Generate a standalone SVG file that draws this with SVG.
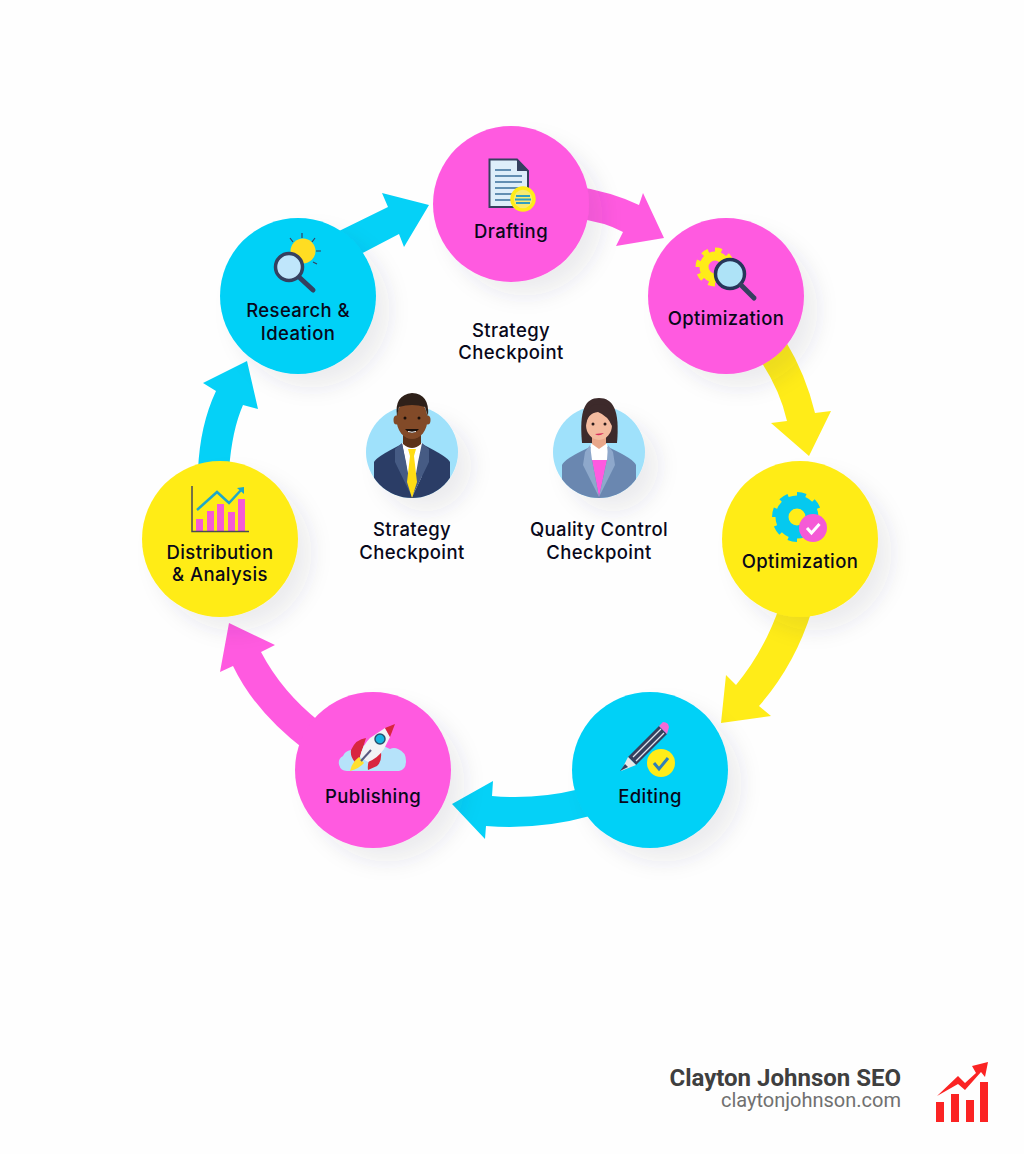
<svg xmlns="http://www.w3.org/2000/svg" width="1024" height="1154" viewBox="0 0 1024 1154">
<style>
.lb{font-family:"Inter","Noto Sans","Liberation Sans",sans-serif;font-size:18.500px;font-weight:500;letter-spacing:.4px;fill:#08081a;text-anchor:middle;transform:translateY(1px)}
.pink{fill:#ff5ae0}.cyan{fill:#05d1f7}.yellow{fill:#ffec18}
.nc{filter:url(#sh)}
.dk{fill:none;stroke:#35405f;stroke-linecap:round}
</style>
<defs>
<filter id="sh" x="-30%" y="-30%" width="170%" height="170%"><feDropShadow dx="14" dy="14" stdDeviation="10" flood-color="#30405a" flood-opacity="0.09"/></filter>
<clipPath id="cm"><circle cx="412" cy="452" r="46"/></clipPath>
<clipPath id="cf"><circle cx="599" cy="452" r="46"/></clipPath>
</defs>
<rect width="1024" height="1154" fill="#fefefe"/>
<g id="connectors">
<path class="cyan" d="M335,233 L388,207 L382,193 L429,205 L404,247 L399,234 L355,257 Z"/>
<path class="pink" d="M575,186 Q612,192 639,205 L643,193 L664,238 L616,246 L623,232 Q605,222 575,218 Z"/>
<path class="yellow" d="M785,340 Q806,375 815,413 L831,411 L809,456 L771,423 L787,421 Q780,390 760,360 Z"/>
<path class="yellow" d="M780,605 Q765,650 736,685 L726,675 L721,723 L771,716 L759,706 Q795,665 812,610 Z"/>
<path class="cyan" d="M580,789 Q535,800 492,796 L493,781 L452,804 L485,839 L486,826 Q540,830 590,816 Z"/>
<path class="pink" d="M320,722 Q282,692 261,652 L275,645 L229,623 L220,672 L233,666 Q255,712 305,750 Z"/>
<path class="cyan" d="M198,470 Q200,425 216,391 L203,383 L247,361 L258,409 L243,405 Q232,430 229,470 Z"/>
</g>
<g id="node-research">
<circle class="cyan nc" cx="298" cy="296" r="78"/>
<circle cx="303" cy="251" r="12.500" fill="#ffdd22"/>
<path d="M302,233v5M290,238l3,4M315,238l-3,4M321,251h-5M317,264l-4-2" stroke="#35405f" stroke-width="1.200" fill="none"/>
<circle cx="289" cy="267" r="13.500" fill="#bfe6fb" stroke="#35405f" stroke-width="3.500"/>
<path class="dk" stroke-width="5" d="M300,278L313,290"/>
<text class="lb" x="298" y="316">Research &amp;</text>
<text class="lb" x="298" y="339">Ideation</text>
</g>
<g id="node-drafting">
<circle class="pink nc" cx="511" cy="204" r="78"/>
<path d="M489.500,159.500H517L528,171V207H489.500Z" fill="#deeefa" stroke="#35405f" stroke-width="2"/>
<path d="M517,159.500L528,171H517Z" fill="#35405f"/>
<path d="M495,170H511M495,176H522M495,182H522M495,188H522M495,194H512M495,200H512" stroke="#3a6f9a" stroke-width="1.500"/>
<circle cx="523" cy="199" r="11" fill="#f7ea70" stroke="#ffec18" stroke-width="3.500"/>
<path d="M516,196H530M515,199.500H531M516,203H530" stroke="#2f9fc0" stroke-width="1.800"/>
<text class="lb" x="511" y="237">Drafting</text>
</g>
<g id="node-optimization-1">
<circle class="pink nc" cx="726" cy="296" r="78"/>
<circle cx="715" cy="267" r="17" fill="none" stroke="#ffec18" stroke-width="5" pathLength="16" stroke-dasharray="1 1"/>
<circle cx="715" cy="267" r="11" fill="#ff5ae0" stroke="#ffec18" stroke-width="9"/>
<circle cx="730" cy="274" r="14.500" fill="#aee3f7" stroke="#26365a" stroke-width="3.500"/>
<path class="dk" stroke-width="5" d="M741,285L754,298"/>
<text class="lb" x="726" y="324">Optimization</text>
</g>
<g id="node-optimization-2">
<circle class="yellow nc" cx="800" cy="539" r="78"/>
<circle cx="797" cy="517" r="22" fill="none" stroke="#05c9ef" stroke-width="6" pathLength="16" stroke-dasharray="1 1"/>
<circle cx="797" cy="517" r="15" fill="#ffec18" stroke="#05c9ef" stroke-width="13"/>
<circle cx="813" cy="528" r="14" fill="#f55ad6"/>
<path d="M807,528l4.500,5 8-9" fill="none" stroke="#fff" stroke-width="3"/>
<text class="lb" x="800" y="567">Optimization</text>
</g>
<g id="node-editing">
<circle class="cyan nc" cx="650" cy="770" r="78"/>
<path d="M628,757L659,726L667,734L636,765Z" fill="#35405f"/>
<path d="M633,757L661,729M636,761L664,733" stroke="#dfe3ee" stroke-width="1.300"/>
<path d="M659,726L663,722Q666,722 668,724L669,727L667,734Z" fill="#f46ad6"/>
<path d="M628,757L636,765L621,771Z" fill="#e8e8e8"/>
<path d="M625,764L628,767L620,771Z" fill="#35405f"/>
<circle cx="661" cy="763" r="14" fill="#ffec18"/>
<path d="M654,763l5,6 9-11" fill="none" stroke="#2f7fb8" stroke-width="3"/>
<text class="lb" x="650" y="802">Editing</text>
</g>
<g id="node-publishing">
<circle class="pink nc" cx="373" cy="770" r="78"/>
<path d="M347,771a8,8 0 0 1-4-15q2-5 8-6q6-7 16-4 12-3 23,3 4-2 8,0 8,3 8,12 0,9-7,10z" fill="#b6e3fa"/>
<path d="M351,750Q356,739 366,738L360,757L355,762Q350,757 351,750ZM368,770Q367,762 371,758L381,752Q382,762 377,766Z" fill="#d8263f"/>
<path d="M385,728L370,738Q362,746 360,757L368,762Q378,758 384,749L390,737Z" fill="#f2f3f5"/>
<path d="M385,728L395,724L390,737Z" fill="#d8263f"/>
<circle cx="380" cy="739" r="5" fill="#16b4e0" stroke="#26506e" stroke-width="1.500"/>
<path d="M359,757L364,763Q360,768 350,771Q352,762 359,757Z" fill="#ffdf2e"/>
<path d="M361,761L371,750" stroke="#5a5a80" stroke-width="2"/>
<text class="lb" x="373" y="802">Publishing</text>
</g>
<g id="node-distribution">
<circle class="yellow nc" cx="220" cy="539" r="78"/>
<path d="M196,519h7v13h-7zM207,511h7v21h-7zM217,504h7v28h-7zM228,512h7v20h-7zM238,499h7v33h-7z" fill="#f55ad6"/>
<path d="M192,486V531.500H249" fill="none" stroke="#4a4a55" stroke-width="1.500"/>
<path d="M197,510L217,492L229,503L242,489" fill="none" stroke="#1fa8c8" stroke-width="2.500"/>
<path d="M237,488L244,487L244,494Z" fill="#1fa8c8"/>
<text class="lb" x="220" y="558">Distribution</text>
<text class="lb" x="220" y="580">&amp; Analysis</text>
</g>
<g id="label-strategy-top">
<text class="lb" x="511" y="336">Strategy</text>
<text class="lb" x="511" y="358">Checkpoint</text>
</g>
<g id="node-strategy-checkpoint">
<circle cx="412" cy="452" r="46" fill="#9fe1fb" class="nc"/>
<g clip-path="url(#cm)">
<path d="M374,500V462Q376,457 402,444H422Q448,457 450,462V500Z" fill="#2b3d66"/>
<path d="M402,443H422V476L412,497Z" fill="#fff"/>
<path d="M395,449L402,443L406,462L412,497L395,462ZM429,449L422,443L418,462L412,497L429,462Z" fill="#465b84"/>
<path d="M408,449H416L414,456L417,482L412,498L407,482L410,456Z" fill="#ffdc14"/>
</g>
<path d="M403,432H421V444Q412,452 403,444Z" fill="#5c3219"/>
<ellipse cx="396.500" cy="420" rx="3" ry="4.500" fill="#824a28"/><ellipse cx="427.500" cy="420" rx="3" ry="4.500" fill="#824a28"/>
<ellipse cx="412" cy="419" rx="15.500" ry="20" fill="#824a28"/>
<path d="M397,416Q394,395 412,393Q430,394 428,416L425,407Q412,403 399,407Z" fill="#2e2019"/>
<circle cx="405" cy="418" r="1.500" fill="#1a0f0a"/><circle cx="419" cy="418" r="1.500" fill="#1a0f0a"/>
<path d="M405,429Q412,437 419,429Z" fill="#1a0f0a"/>
<path d="M408,431.500Q412,433 416,431.500" stroke="#fff" stroke-width="1" fill="none"/>
<text class="lb" x="412" y="535">Strategy</text>
<text class="lb" x="412" y="558">Checkpoint</text>
</g>
<g id="node-quality-checkpoint">
<circle cx="599" cy="452" r="46" fill="#9fe1fb" class="nc"/>
<path d="M582,443C579,410 585,398 599,398C613,398 620,410 617,443Z" fill="#3d2a2b"/>
<g clip-path="url(#cf)">
<path d="M562,500V465Q564,459 590,447H608Q634,459 636,465V500Z" fill="#6a87b0"/>
<path d="M591,444H607L609,460H589Z" fill="#fff"/>
<path d="M592,460H607L599,497Z" fill="#ff5ae0"/>
<path d="M585,452L590,445L592,460L599,497L583,465ZM613,452L608,445L607,460L599,497L615,465Z" fill="#8ea8cb"/>
</g>
<path d="M592,432H606V444L599,449L592,444Z" fill="#e8a78a"/>
<ellipse cx="599" cy="425" rx="13" ry="15" fill="#f4bb9f"/>
<path d="M586,426Q587,413 598,412Q608,416 612,426Q614,404 599,404Q584,404 586,426Z" fill="#3d2a2b"/>
<circle cx="593" cy="424" r="1.500" fill="#2a1a1a"/><circle cx="605" cy="424" r="1.500" fill="#2a1a1a"/>
<path d="M595,434Q599,437 604,433Z" fill="#d92e5c"/>
<text class="lb" x="599" y="535">Quality Control</text>
<text class="lb" x="599" y="558">Checkpoint</text>
</g>
<g id="brand">
<text x="901" y="1086" text-anchor="end" font-family="Roboto,'Liberation Sans',sans-serif" font-weight="700" font-size="24" fill="#3f3f3f">Clayton Johnson SEO</text>
<text x="901" y="1107" text-anchor="end" font-family="Roboto,'Liberation Sans',sans-serif" font-size="20" fill="#707070">claytonjohnson.com</text>
<path d="M936,1102h8v20h-8zM951,1094h8v28h-8zM966,1100h8v22h-8zM980,1082h8v40h-8z" fill="#fb2323"/>
<path d="M937,1096L958,1076L965,1083L976,1073L972,1066L988,1062L985,1077L981,1072L965,1090L958,1084Z" fill="#fb2323"/>
</g>
</svg>
